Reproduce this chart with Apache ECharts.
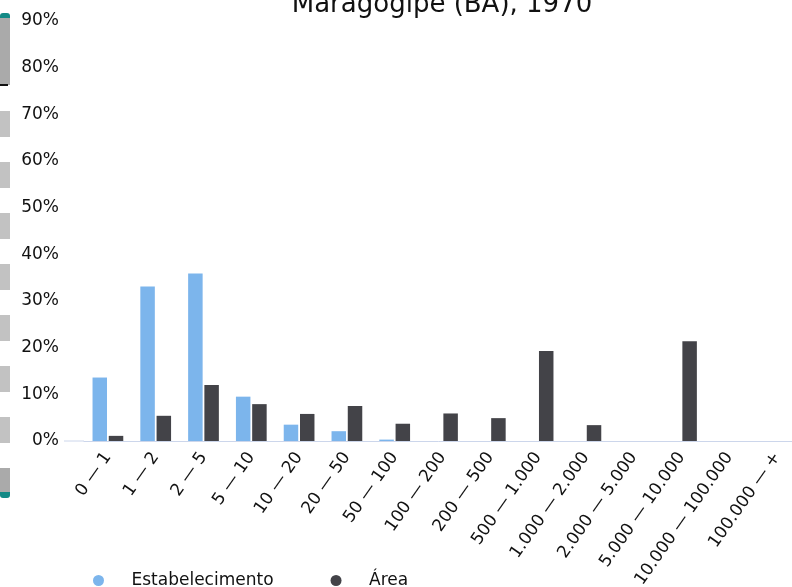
<!DOCTYPE html>
<html>
<head>
<meta charset="utf-8">
<script src="https://cdn.jsdelivr.net/npm/echarts@6/dist/echarts.min.js"></script>
<style>
  html, body { margin: 0; padding: 0; background: #fff; }
  #chart { width: 792px; height: 587px; }
</style>
</head>
<body>
<div id="chart"></div>
<script>
// area classes (ha)
var categories = ['0 — 1', '1 — 2', '2 — 5', '5 — 10', '10 — 20', '20 — 50', '50 — 100',
  '100 — 200', '200 — 500', '500 — 1.000', '1.000 — 2.000', '2.000 — 5.000',
  '5.000 — 10.000', '10.000 — 100.000', '100.000 — +'];

// shares in %
var estabelecimento = [13.6, 33.1, 35.9, 9.5, 3.5, 2.1, 0.3, 0, 0, 0, 0, 0, 0, 0, 0];
var area = [1.1, 5.4, 12.0, 7.9, 5.8, 7.5, 3.7, 5.9, 4.9, 19.3, 3.4, 0, 21.4, 0, 0];

var chartDom = document.getElementById('chart');
var myChart = echarts.init(chartDom);
var font = 'DejaVu Sans';
var ink = '#111';

// left strip (decoration)
var strip = [
  { type: 'rect', shape: { x: 0, y: 18, width: 10, height: 67 }, style: { fill: '#aaaaaa' } },
  { type: 'rect', shape: { x: 0, y: 13, width: 10, height: 5, r: [3, 3, 0, 0] }, style: { fill: '#138a86' } },
  { type: 'rect', shape: { x: 0, y: 84, width: 8, height: 2 }, style: { fill: '#111' } },
  { type: 'rect', shape: { x: 0, y: 468, width: 10, height: 24 }, style: { fill: '#aaaaaa' } },
  { type: 'rect', shape: { x: 0, y: 492, width: 10, height: 6, r: [0, 0, 3, 3] }, style: { fill: '#138a86' } },
  { type: 'line', shape: { x1: 64, y1: 441, x2: 84, y2: 441 }, style: { stroke: '#ccd6eb', lineWidth: 1 } }
];
for (var i = 0; i < 7; i++) {
  strip.push({ type: 'rect', shape: { x: 0, y: 111 + i * 51, width: 10, height: 26 }, style: { fill: '#c2c2c2' } });
}

var option = {
  animation: false,
  title: {
    text: 'Maragogipe (BA), 1970',
    left: 437,
    textAlign: 'center',
    top: -13,
    textStyle: { fontFamily: font, fontWeight: 'normal', fontSize: 26, color: ink }
  },
  legend: {
    left: 88,
    top: 567,
    icon: 'circle',
    itemWidth: 56,
    itemHeight: 11,
    itemGap: 57,
    textStyle: { fontFamily: font, fontSize: 17, color: ink },
    data: ['Estabelecimento', 'Área']
  },
  grid: { left: 84, width: 717, top: 21, bottom: 146, outerBoundsMode: 'none', containLabel: false },
  xAxis: {
    type: 'category',
    data: categories,
    axisLine: { lineStyle: { color: '#ccd6eb' } },
    axisTick: { show: false },
    axisLabel: {
      interval: 0,
      rotate: 55,
      margin: 13,
      fontFamily: font,
      fontSize: 17,
      color: ink
    }
  },
  yAxis: {
    type: 'value',
    min: 0,
    max: 90,
    interval: 10,
    splitLine: { show: false },
    axisLine: { show: false },
    axisTick: { show: false },
    axisLabel: {
      margin: 25,
      formatter: '{value}%',
      fontFamily: font,
      fontSize: 17,
      color: ink
    }
  },
  graphic: strip,
  series: [
    {
      name: 'Estabelecimento',
      type: 'bar',
      data: estabelecimento,
      barWidth: 14.5,
      barGap: '12%',
      itemStyle: { color: '#7cb5ec' }
    },
    {
      name: 'Área',
      type: 'bar',
      data: area,
      barWidth: 14.5,
      itemStyle: { color: '#434348' }
    }
  ]
};

option && myChart.setOption(option);
</script>
</body>
</html>
